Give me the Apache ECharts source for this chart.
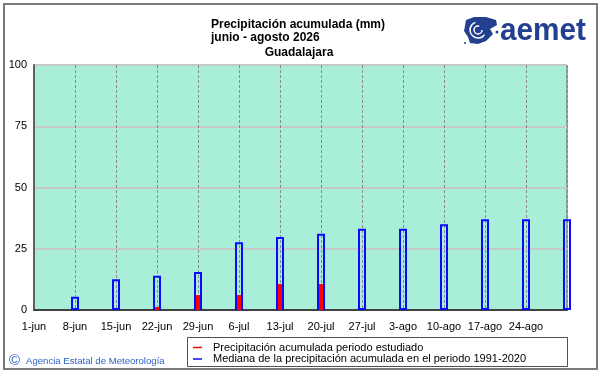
<!DOCTYPE html>
<html>
<head>
<meta charset="utf-8">
<script src="https://cdn.jsdelivr.net/npm/echarts@6/dist/echarts.min.js"></script>
<style>
html,body{margin:0;padding:0;background:#fff;}
#c{width:601px;height:374px;}
</style>
</head>
<body>
<div id="c"></div>
<script>
// ---- data ----
var categories = ['1-jun','8-jun','15-jun','22-jun','29-jun','6-jul','13-jul','20-jul','27-jul','3-ago','10-ago','17-ago','24-ago','31-ago'];
var tickLabels = ['1-jun','8-jun','15-jun','22-jun','29-jun','6-jul','13-jul','20-jul','27-jul','3-ago','10-ago','17-ago','24-ago',''];
var medianValues = [null, 5.4, 12.6, 14.0, 15.5, 27.7, 29.8, 31.1, 33.2, 33.2, 35.0, 37.0, 37.0, 37.0];
var observedValues = [null, 0, 0, 1.2, 6.1, 6.1, 10.6, 10.6, null, null, null, null, null, null];
var yTicks = [0, 25, 50, 75, 100];
var seriesNames = ['Precipitación acumulada periodo estudiado', 'Mediana de la precipitación acumulada en el periodo 1991-2020'];
var titleLines = ['Precipitación acumulada (mm)', 'junio - agosto 2026', 'Guadalajara'];
var copyright = 'Agencia Estatal de Meteorología';

var chart = echarts.init(document.getElementById('c'), null, {renderer: 'canvas'});
var FONT = '"Liberation Sans", Arial, sans-serif';

var option = {
  animation: false,
  backgroundColor: '#ffffff',
  grid: {
    left: 34, right: 34, top: 65, bottom: 64,
    show: true, backgroundColor: '#a8eed8',
    borderColor: '#5a5a5a', borderWidth: 1
  },
  xAxis: [{
    type: 'category', data: categories, boundaryGap: false,
    axisLine: {show: true, lineStyle: {color: '#404040', width: 2}},
    axisTick: {show: false},
    axisLabel: {
      interval: 0, margin: 11, color: '#000', fontSize: 11, fontFamily: FONT,
      formatter: function (v, i) { return tickLabels[i]; }
    },
    splitLine: {show: true, interval: 0, lineStyle: {color: '#8a8a8a', type: [3, 2], width: 1}}
  }, {
    type: 'category', data: categories, boundaryGap: false, show: false
  }],
  yAxis: {
    type: 'value', min: yTicks[0], max: yTicks[yTicks.length - 1], interval: 25,
    axisLine: {show: true, lineStyle: {color: '#606060', width: 2}},
    axisTick: {show: false},
    axisLabel: {margin: 7, color: '#000', fontSize: 11, fontFamily: FONT},
    splitLine: {show: true, lineStyle: {color: '#c6c9c6', width: 2}}
  },
  series: [{
    name: seriesNames[1], type: 'bar', xAxisIndex: 0, data: medianValues,
    barWidth: 8, clip: false, z: 3,
    itemStyle: {color: 'rgba(0,0,0,0)', borderColor: '#0a0aff', borderWidth: 2}
  }, {
    name: seriesNames[0], type: 'bar', xAxisIndex: 1, data: observedValues,
    barWidth: 4, clip: false, z: 4,
    itemStyle: {color: '#ff0000'}
  }],
  graphic: [
    // outer frame
    {type: 'rect', shape: {x: 4, y: 4, width: 593, height: 365}, style: {fill: null, stroke: '#7a7a7a', lineWidth: 2}, z: 100},
    // title
    {type: 'text', x: 298, y: 25, style: {text: titleLines[0], font: 'bold 12px ' + FONT, fill: '#000', align: 'center', verticalAlign: 'middle'}},
    {type: 'text', x: 211, y: 38, style: {text: titleLines[1], font: 'bold 12px ' + FONT, fill: '#000', align: 'left', verticalAlign: 'middle'}},
    {type: 'text', x: 299, y: 53, style: {text: titleLines[2], font: 'bold 12px ' + FONT, fill: '#000', align: 'center', verticalAlign: 'middle'}},
    // logo icon
    {type: 'polygon', shape: {points: [[466,20],[474,17],[486,17],[496,20],[497,25],[490,29],[493,34],[486,41],[478,44],[470,43],[468,37],[464,31],[465,26]]}, style: {fill: '#22408f'}},
    {type: 'arc', shape: {cx: 478, cy: 30, r: 4, startAngle: 0, endAngle: Math.PI * 1.6}, style: {stroke: '#fff', lineWidth: 1.5, fill: null}},
    {type: 'arc', shape: {cx: 478, cy: 30, r: 8, startAngle: Math.PI * 0.2, endAngle: Math.PI * 1.4}, style: {stroke: '#fff', lineWidth: 1.5, fill: null}},
    {type: 'circle', shape: {cx: 497, cy: 32, r: 1.5}, style: {fill: '#22408f'}},
    {type: 'circle', shape: {cx: 465, cy: 43, r: 1}, style: {fill: '#22408f'}},
    {type: 'text', x: 500, y: 31, scaleX: 0.93, style: {text: 'aemet', font: 'bold 32px ' + FONT, fill: '#22408f', align: 'left', verticalAlign: 'middle'}},
    // copyright
    {type: 'text', x: 9, y: 361, style: {text: '©', font: '15px ' + FONT, fill: '#2f62c4', align: 'left', verticalAlign: 'middle'}},
    {type: 'text', x: 26, y: 361, style: {text: copyright, font: '9.6px ' + FONT, fill: '#2f62c4', align: 'left', verticalAlign: 'middle'}},
    // legend box
    {type: 'rect', shape: {x: 187.5, y: 337.5, width: 380, height: 29}, style: {fill: '#fff', stroke: '#505050', lineWidth: 1}},
    {type: 'line', shape: {x1: 193, y1: 347.5, x2: 202, y2: 347.5}, style: {stroke: '#ff0000', lineWidth: 1.5}},
    {type: 'line', shape: {x1: 193, y1: 359, x2: 202, y2: 359}, style: {stroke: '#0a0aff', lineWidth: 1.5}},
    {type: 'text', x: 213, y: 347.5, style: {text: seriesNames[0], font: '11px ' + FONT, fill: '#000', align: 'left', verticalAlign: 'middle'}},
    {type: 'text', x: 213, y: 359, style: {text: seriesNames[1], font: '11px ' + FONT, fill: '#000', align: 'left', verticalAlign: 'middle'}}
  ]
};
chart.setOption(option);
</script>
</body>
</html>
